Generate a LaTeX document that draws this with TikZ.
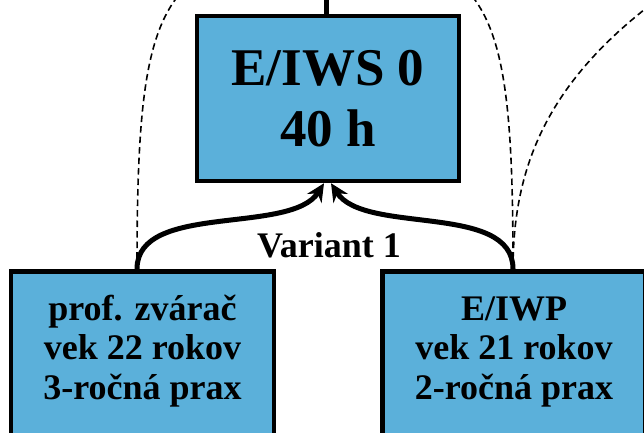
\documentclass[tikz,border=0pt]{standalone}
\usepackage{fontspec}
\setmainfont{Liberation Serif}
\usetikzlibrary{arrows.meta}
\definecolor{boxblue}{RGB}{91,176,218}

\begin{document}
\begin{tikzpicture}
		[x=1pt,y=1pt,
		mybox/.style={
			rectangle,
			draw,
			line width=4.5pt,
			fill=boxblue,
			align=center
		},
		bigbox/.style={mybox,minimum width=262pt,minimum height=165pt,font=\bfseries\fontsize{53}{61}\selectfont},
		lowbox/.style={mybox,anchor=north,minimum width=263pt,inner sep=0pt,text height=128pt,text depth=140pt,font=\bfseries\fontsize{36}{39.5}\selectfont},
		myarrow/.style={line width=5pt,-{Stealth[length=18pt,width=17pt,inset=6pt]}},
		mydash/.style={line width=1.6pt,dash pattern=on 6.5pt off 4pt}]
		\useasboundingbox (0,0) rectangle (644,432);
		\clip (0,0) rectangle (644,432);
		\node[bigbox] (ws) at (328,333.5) {E/IWS 0\\40 h};
		\node[lowbox] (pz) at (142.5,163) {prof. zvárač\\vek 22 rokov\\3-ročná prax};
		\node[lowbox] (iwp) at (514,163) {E/IWP\\vek 21 rokov\\2-ročná prax};
		\node[font=\bfseries\fontsize{36}{40}\selectfont,anchor=base] (v1) at (329,175) {Variant 1};
		\coordinate (up) at (326.5,470);
		\coordinate (lt) at (230,472);
		\coordinate (rt) at (420,472);
		\coordinate (far) at (700,462);
		% line to the level above
		\draw[line width=4.5pt] ([xshift=-1.5pt]ws.north) -- (up);
		% dashed links
		\draw[mydash] ([xshift=-5.5pt]pz.north) .. controls +(0,209) and +(-80,-30) .. (lt);
		\draw[mydash] ([xshift=-1pt]iwp.north) .. controls +(0,209) and +(80,-30) .. (rt);
		\draw[mydash] ([xshift=-1pt]iwp.north) .. controls +(0,119) and +(-140,-90) .. (far);
		% variant 1
		\draw[myarrow] ([xshift=-5.5pt]pz.north) .. controls +(0,67) and +(-33,-52) .. ([xshift=-4pt]ws.south);
		\draw[myarrow] ([xshift=-1pt]iwp.north) .. controls +(0,67) and +(33,-52) .. ([xshift=3pt]ws.south);
\end{tikzpicture}
\end{document}
